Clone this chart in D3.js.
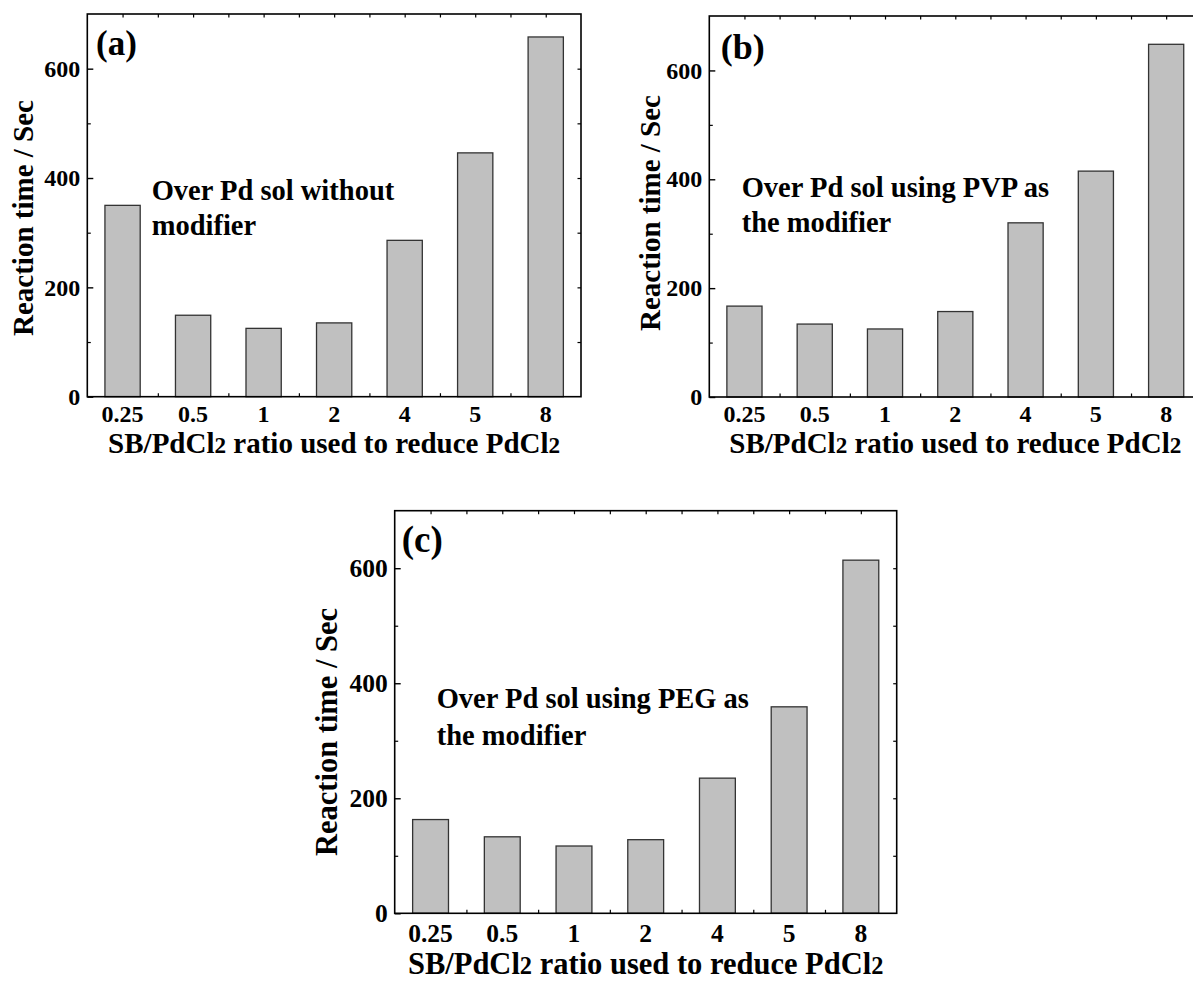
<!DOCTYPE html>
<html>
<head>
<meta charset="utf-8">
<script src="https://cdn.jsdelivr.net/npm/d3@7"></script>
<style>
  body { margin: 0; background: #fff; }
  svg text { font-family: "Liberation Serif", "Times New Roman", serif; font-weight: bold; fill: #000; }
</style>
</head>
<body>
<div id="chart"></div>
<script>
// SB/PdCl2 ratios (x categories)
const ratios = ["0.25", "0.5", "1", "2", "4", "5", "8"];
// reaction time / s
const timeNoModifier = [350, 149, 125, 135, 286, 446, 658];
const timePVP = [167, 134, 125, 157, 320, 415, 648];
const timePEG = [163, 133, 117, 128, 235, 359, 614];
const panelLabels = ["(a)", "(b)", "(c)"];
const notes = [
  ["Over Pd sol without", "modifier"],
  ["Over Pd sol using PVP as", "the modifier"],
  ["Over Pd sol using PEG as", "the modifier"]
];
const yMajor = [0, 200, 400, 600];
const yMinor = [100, 300, 500];
const yTitle = "Reaction time / Sec";

const width = 1193, height = 982;
const svg = d3.select("#chart").append("svg")
  .attr("width", width)
  .attr("height", height);

// layout of each panel (pixels)
const panels = [
  { values: timeNoModifier, left: 87.3, top: 14, w: 493.7, h: 382.7,
    tick: 24, title: 29, lab: 35, labDx: 8.7, labDy: 41,
    noteDx: 64.4, noteDy: 186, noteGap: 35, yTitleX: 33, yTitleCy: 218,
    xTickDy: 25, xTitleDy: 56 },
  { values: timePVP, left: 709.3, top: 16, w: 492, h: 381,
    tick: 24, title: 29, lab: 36, labDx: 11.4, labDy: 43.3,
    noteDx: 32.4, noteDy: 180.7, noteGap: 35, yTitleX: 660, yTitleCy: 213,
    xTickDy: 25, xTitleDy: 56 },
  { values: timePEG, left: 394.7, top: 510.7, w: 502, h: 402.6,
    tick: 25.5, title: 30.5, lab: 37, labDx: 7, labDy: 41,
    noteDx: 42, noteDy: 197.6, noteGap: 36.7, yTitleX: 337, yTitleCy: 732,
    xTickDy: 28.4, xTitleDy: 61 }
];

panels.forEach((p, i) => {
  const g = svg.append("g").attr("transform", `translate(${p.left},${p.top})`);

  const x = d3.scaleBand().domain(ratios).range([0, p.w])
    .paddingInner(0.5).paddingOuter(0.25);
  const xPos = d3.scaleLinear().domain([0, ratios.length]).range([0, p.w]);
  const y = d3.scaleLinear().domain([0, 700]).range([p.h, 0]);
  const halfSteps = d3.range(0.5, ratios.length, 0.5);

  // inward ticks on bottom / top / right
  const tickStyle = sel => {
    sel.select(".domain").remove();
    sel.selectAll("line").attr("stroke", "#000").attr("stroke-width", 1.2);
    sel.selectAll("text").remove();
  };
  g.append("g").attr("transform", `translate(0,${p.h})`)
    .call(d3.axisBottom(xPos).tickValues(halfSteps).tickSize(-3.5)).call(tickStyle);
  g.append("g")
    .call(d3.axisTop(xPos).tickValues(halfSteps).tickSize(-3.5)).call(tickStyle);
  g.append("g").attr("transform", `translate(${p.w},0)`)
    .call(d3.axisRight(y).tickValues(d3.range(100, 700, 100)).tickSize(-3.5)).call(tickStyle);
  g.append("g")
    .call(d3.axisLeft(y).tickValues(yMinor).tickSize(-3.5)).call(tickStyle);

  // bars
  g.selectAll("rect.bar")
    .data(p.values)
    .join("rect")
    .attr("class", "bar")
    .attr("x", (d, j) => x(ratios[j]))
    .attr("y", d => y(d))
    .attr("width", x.bandwidth())
    .attr("height", d => y(0) - y(d))
    .attr("fill", "#c0c0c0")
    .attr("stroke", "#333")
    .attr("stroke-width", 1.3);

  // left axis with labels
  const yAx = g.append("g")
    .call(d3.axisLeft(y).tickValues(yMajor).tickSize(-6).tickPadding(7));
  yAx.select(".domain").remove();
  yAx.selectAll("line").attr("stroke", "#000").attr("stroke-width", 1.4);
  yAx.selectAll("text").style("font-size", p.tick + "px")
    .style("font-family", "'Liberation Serif', serif").style("font-weight", "bold");

  // bottom category labels
  const xAx = g.append("g").attr("transform", `translate(0,${p.h})`)
    .call(d3.axisBottom(x).tickSize(0).tickPadding(0));
  xAx.select(".domain").remove();
  xAx.selectAll("text")
    .attr("y", p.xTickDy).attr("dy", null)
    .style("font-size", p.tick + "px")
    .style("font-family", "'Liberation Serif', serif").style("font-weight", "bold");

  // frame
  g.append("rect")
    .attr("width", p.w).attr("height", p.h)
    .attr("fill", "none").attr("stroke", "#000").attr("stroke-width", 1.6);

  // panel label
  g.append("text")
    .attr("x", p.labDx).attr("y", p.labDy)
    .style("font-size", p.lab + "px")
    .text(panelLabels[i]);

  // annotation
  notes[i].forEach((line, k) => {
    g.append("text")
      .attr("x", p.noteDx).attr("y", p.noteDy + k * p.noteGap)
      .style("font-size", "28.5px")
      .text(line);
  });

  // x title with subscripts
  const xt = g.append("text")
    .attr("x", p.w / 2).attr("y", p.h + p.xTitleDy)
    .attr("text-anchor", "middle")
    .style("font-size", p.title + "px");
  xt.append("tspan").text("SB/PdCl");
  xt.append("tspan").style("font-size", "80%").text("2");
  xt.append("tspan").text(" ratio used to reduce PdCl");
  xt.append("tspan").style("font-size", "80%").text("2");

  // y title
  svg.append("text")
    .attr("transform", `translate(${p.yTitleX},${p.yTitleCy}) rotate(-90)`)
    .attr("text-anchor", "middle")
    .style("font-size", p.title + "px")
    .text(yTitle);
});
</script>
</body>
</html>
